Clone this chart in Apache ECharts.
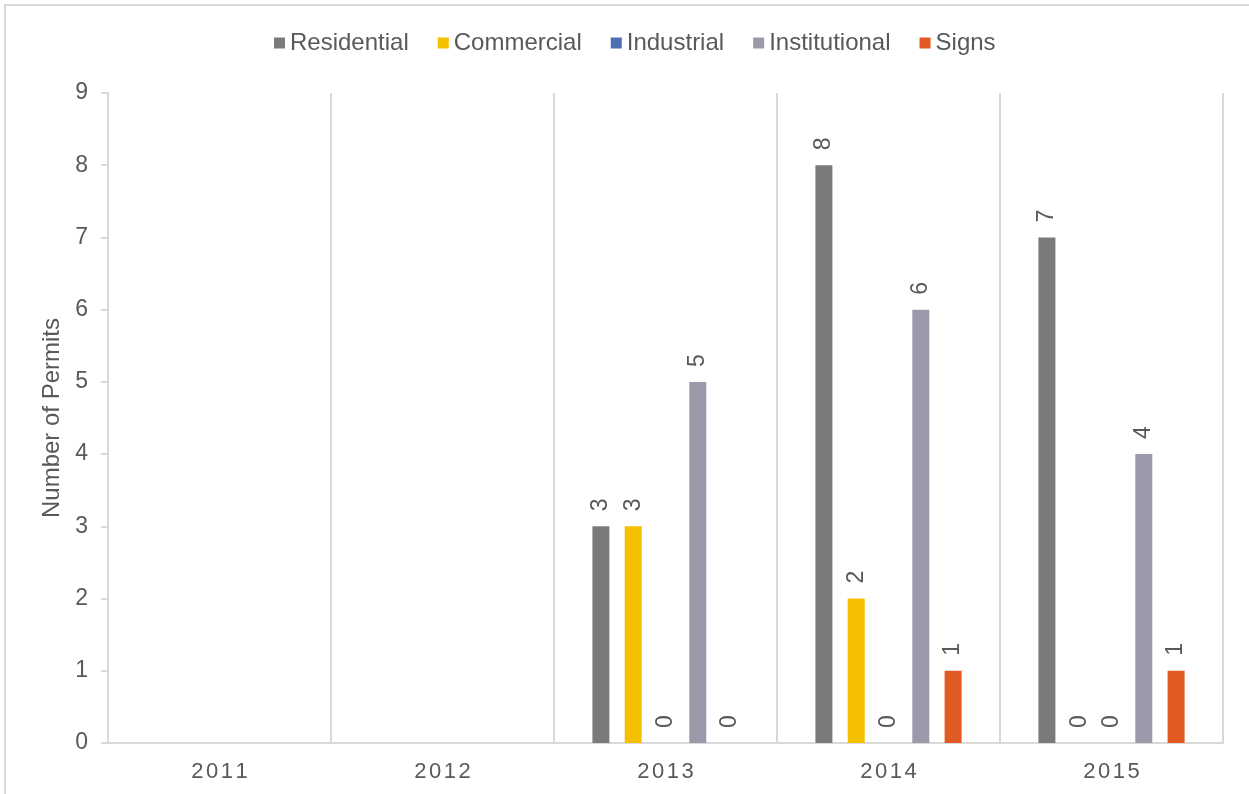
<!DOCTYPE html>
<html>
<head>
<meta charset="utf-8">
<script src="https://cdn.jsdelivr.net/npm/echarts@6/dist/echarts.min.js"></script>
<style>
  html, body { margin: 0; padding: 0; background: #ffffff; }
  #chart { width: 1249px; height: 794px; }
</style>
</head>
<body>
<div id="chart"></div>
<script>
// Permit counts by year and permit type
var years = ['2011', '2012', '2013', '2014', '2015'];
var residential   = [null, null, 3, 8, 7];
var commercial    = [null, null, 3, 2, 0];
var industrial    = [null, null, 0, 0, 0];
var institutional = [null, null, 5, 6, 4];
var signs         = [null, null, 0, 1, 1];
var yTicks = [0, 1, 2, 3, 4, 5, 6, 7, 8, 9];

var FONT = 'Liberation Sans, Arial, sans-serif';
var TEXT = '#595959';

function barSeries(name, data, color) {
  return {
    name: name,
    type: 'bar',
    data: data,
    barWidth: 17,
    barGap: '90%',
    itemStyle: { color: color },
    label: {
      show: true,
      position: 'top',
      rotate: 90,
      align: 'left',
      verticalAlign: 'middle',
      distance: 15,
      color: TEXT,
      fontFamily: FONT,
      fontSize: 23
    }
  };
}

var chart = echarts.init(document.getElementById('chart'), null, { renderer: 'canvas' });

chart.setOption({
  backgroundColor: '#ffffff',
  animation: false,
  graphic: [{
    type: 'rect',
    shape: { x: 5, y: 5, width: 1400, height: 1000 },
    style: { fill: 'none', stroke: '#d9d9d9', lineWidth: 2 },
    silent: true
  }],
  legend: {
    top: 26,
    left: 269,
    itemWidth: 11,
    itemHeight: 11,
    itemGap: 29,
    icon: 'rect',
    textStyle: { color: TEXT, fontFamily: FONT, fontSize: 24 },
    data: ['Residential', 'Commercial', 'Industrial', 'Institutional', 'Signs']
  },
  grid: { left: 108, right: 26, top: 93, bottom: 51 },
  xAxis: {
    type: 'category',
    data: years,
    axisLine: { show: true, lineStyle: { color: '#d9d9d9', width: 2 } },
    axisTick: { show: false },
    splitLine: { show: true, lineStyle: { color: '#d9d9d9', width: 2 } },
    axisLabel: {
      color: TEXT,
      fontFamily: FONT,
      fontSize: 22,
      margin: 18,
      formatter: function (v) { return v.split('').join('{s| }'); },
      rich: { s: { fontSize: 9 } }
    }
  },
  yAxis: {
    type: 'value',
    min: yTicks[0],
    max: yTicks[yTicks.length - 1],
    interval: 1,
    name: 'Number of Permits',
    nameLocation: 'middle',
    nameGap: 35,
    nameTextStyle: { color: TEXT, fontFamily: FONT, fontSize: 24 },
    axisLine: { show: true, lineStyle: { color: '#d9d9d9', width: 2 } },
    axisTick: { show: true, length: 7, lineStyle: { color: '#d9d9d9', width: 2 } },
    splitLine: { show: false },
    axisLabel: { color: TEXT, fontFamily: FONT, fontSize: 23, margin: 20 }
  },
  series: [
    barSeries('Residential', residential, '#7a7a7a'),
    barSeries('Commercial', commercial, '#f4c000'),
    barSeries('Industrial', industrial, '#4e6fb3'),
    barSeries('Institutional', institutional, '#9b9aab'),
    barSeries('Signs', signs, '#e05a22')
  ]
});
</script>
</body>
</html>
